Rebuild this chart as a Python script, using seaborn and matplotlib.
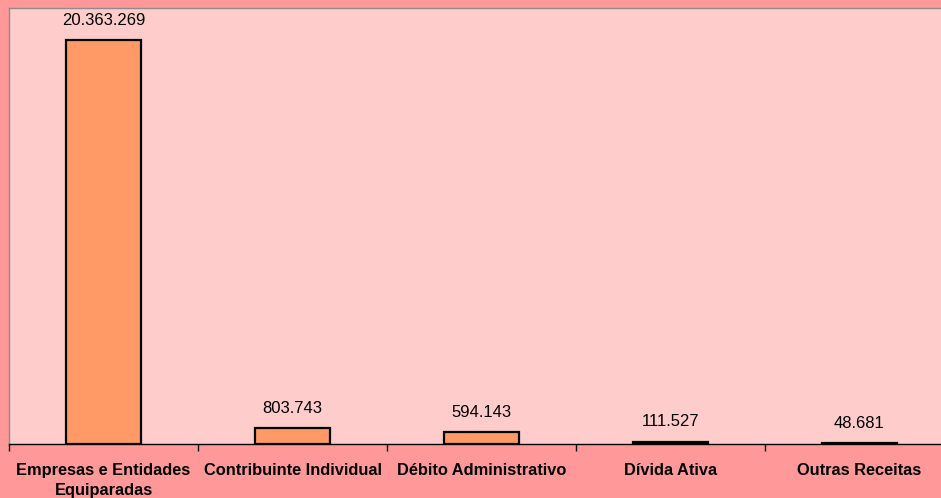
import matplotlib
matplotlib.use("Agg")
import matplotlib.pyplot as plt
import seaborn as sns
import pandas as pd
import numpy as np

categorias = ["Empresas e Entidades\nEquiparadas", "Contribuinte Individual",
              "Débito Administrativo", "Dívida Ativa", "Outras Receitas"]
valores = [20363269, 803743, 594143, 111527, 48681]
rotulos = ["20.363.269", "803.743", "594.143", "111.527", "48.681"]

df = pd.DataFrame({"categoria": categorias, "valor": valores})

sns.set_theme(style="white")
plt.rcParams["font.family"] = ["Liberation Sans", "DejaVu Sans"]

fig = plt.figure(figsize=(9.41, 4.98), dpi=100, facecolor="#FF9999")
ax = fig.add_axes([9 / 941, 1 - 444 / 498, 1 - 9 / 941, (444 - 8) / 498])
ax.set_facecolor("#FFCCCC")

sns.barplot(data=df, x="categoria", y="valor", color="#FF9966", saturation=1,
            width=0.4, edgecolor="black", linewidth=1.6, ax=ax)

ax.set_xlabel("")
ax.set_ylabel("")
ax.set_yticks([])

for i, (v, t) in enumerate(zip(valores, rotulos)):
    ax.annotate(t, (i, v), xytext=(0, 9), textcoords="offset points",
                ha="center", va="bottom", fontsize=12, color="black")

ax.set_xticks(range(len(categorias)))
ax.set_xticklabels(categorias, fontsize=11.8, fontweight="bold",
                   linespacing=1.35, color="black")
ax.tick_params(axis="x", which="major", length=0, pad=14)
ax.set_xticks(np.arange(-0.5, len(categorias)), minor=True)
ax.tick_params(axis="x", which="minor", length=5, width=1, color="black",
               direction="out", bottom=True)

# the category band is wider than the figure: the last one runs off the right edge
ax.set_ylim(0, 22_000_000)
ax.set_xlim(-0.5, -0.5 + 932 / 189)

for side in ("left", "top"):
    ax.spines[side].set_visible(True)
    ax.spines[side].set_color("#8C8C8C")
    ax.spines[side].set_linewidth(1)
ax.spines["right"].set_visible(False)
ax.spines["bottom"].set_color("black")
ax.spines["bottom"].set_linewidth(1)

fig.savefig("out.png", dpi=100, facecolor=fig.get_facecolor())
